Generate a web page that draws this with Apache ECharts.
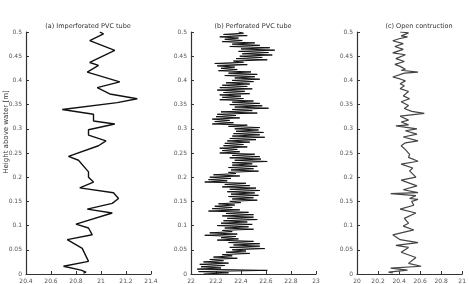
<!DOCTYPE html>
<html>
<head>
<meta charset="utf-8">
<script src="https://cdn.jsdelivr.net/npm/echarts@6/dist/echarts.min.js"></script>
<style>
html,body{margin:0;padding:0;background:#fff}
#main{width:469px;height:284px}
</style>
</head>
<body>
<div id="main"></div>
<script>
// (a) imperforated tube
var tempA = [20.99,21.02,20.91,21.11,20.91,20.98,20.89,21.15,20.97,21.07,21.29,21.13,20.69,20.94,20.94,21.11,20.90,20.90,21.04,20.98,20.74,20.82,20.90,20.90,20.94,20.83,21.10,21.14,21.09,20.89,21.09,20.80,20.90,20.93,20.73,20.85,20.90,20.70,20.84,20.88,20.86]
var hA = [0.500,0.496,0.482,0.462,0.437,0.431,0.417,0.397,0.385,0.372,0.362,0.354,0.340,0.330,0.316,0.310,0.298,0.287,0.275,0.265,0.243,0.235,0.211,0.200,0.190,0.178,0.168,0.156,0.146,0.134,0.126,0.103,0.095,0.081,0.071,0.053,0.026,0.016,0.008,0.004,0.002]

// (b) perforated tube, sampled every 2.5 mm from the bottom
var hStepB = 0.0025
var tempB = [
22.10,22.30,22.06,22.61, 22.05,22.24,22.08,22.27, 22.07,22.30,22.10,22.26, 22.15,22.37,22.18,22.33,
22.25,22.47,22.28,22.44, 22.33,22.59,22.31,22.55, 22.34,22.55,22.30,22.50, 22.21,22.38,22.24,22.36,
22.11,22.37,22.15,22.33, 22.25,22.50,22.27,22.46, 22.21,22.49,22.24,22.45, 22.26,22.53,22.29,22.50,
22.25,22.50,22.28,22.46, 22.14,22.39,22.17,22.33, 22.19,22.35,22.22,22.40, 22.31,22.53,22.33,22.50,
22.30,22.54,22.32,22.51, 22.29,22.55,22.31,22.52, 22.25,22.47,22.27,22.44, 22.11,22.29,22.14,22.32,
22.15,22.39,22.18,22.36, 22.30,22.54,22.32,22.50, 22.30,22.53,22.33,22.49, 22.33,22.61,22.35,22.56,
22.31,22.55,22.33,22.51, 22.23,22.39,22.25,22.37, 22.23,22.45,22.26,22.42, 22.27,22.47,22.29,22.52,
22.31,22.59,22.33,22.55, 22.34,22.58,22.36,22.54, 22.35,22.55,22.30,22.45, 22.17,22.34,22.19,22.31,
22.17,22.39,22.20,22.36, 22.21,22.53,22.24,22.49, 22.33,22.62,22.35,22.57, 22.31,22.55,22.33,22.50,
22.23,22.42,22.25,22.40, 22.23,22.47,22.26,22.43, 22.21,22.49,22.23,22.45, 22.25,22.47,22.28,22.50,
22.33,22.55,22.35,22.51, 22.27,22.53,22.30,22.48, 22.22,22.37,22.24,22.35, 22.21,22.45,22.19,22.42,
22.34,22.61,22.36,22.57, 22.39,22.65,22.41,22.62, 22.38,22.67,22.40,22.63, 22.31,22.55,22.33,22.51,
22.25,22.41,22.27,22.38, 22.23,22.45,22.26,22.42,
22.38]

// (c) open construction
var tempC = [20.41,20.49,20.42,20.48,20.40,20.34,20.44,20.36,20.44,20.34,20.46,20.37,20.45,20.36,20.41,20.46,20.42,20.58,20.45,20.34,20.41,20.46,20.41,20.45,20.41,20.49,20.44,20.50,20.42,20.49,20.45,20.52,20.64,20.41,20.49,20.42,20.49,20.37,20.57,20.46,20.57,20.44,20.58,20.46,20.42,20.46,20.50,20.49,20.58,20.42,20.53,20.50,20.56,20.42,20.57,20.44,20.58,20.32,20.56,20.50,20.58,20.52,20.54,20.41,20.56,20.45,20.49,20.44,20.54,20.34,20.41,20.58,20.37,20.49,20.42,20.56,20.49,20.61,20.32,20.48,20.30,20.34]
var hC = [0.500,0.498,0.492,0.490,0.486,0.482,0.476,0.470,0.464,0.457,0.453,0.445,0.439,0.433,0.429,0.423,0.421,0.417,0.415,0.407,0.403,0.399,0.393,0.389,0.383,0.377,0.368,0.362,0.356,0.348,0.342,0.336,0.332,0.326,0.318,0.314,0.308,0.306,0.300,0.296,0.289,0.283,0.275,0.271,0.265,0.257,0.247,0.241,0.233,0.227,0.219,0.213,0.200,0.194,0.182,0.174,0.168,0.166,0.162,0.156,0.154,0.150,0.142,0.134,0.126,0.115,0.105,0.099,0.091,0.081,0.071,0.065,0.059,0.055,0.045,0.034,0.022,0.016,0.012,0.008,0.004,0.002]

var titles = ['(a) Imperforated PVC tube', '(b) Perforated PVC tube', '(c) Open contruction']
var xMins = [20.4, 22, 20]
var xMaxs = [21.4, 23, 21]
var gridLefts = [26, 191, 357]
var lineColors = ['#111', '#111', '#444']
var lineWidths = [1.4, 1, 1.2]

function pairs(xs, ys) {
	var out = []
	for (var i = 0; i < xs.length; i++) out.push([xs[i], ys[i]])
	return out
}
var dataB = []
for (var i = 0; i < tempB.length; i++) dataB.push([tempB[i], +(i * hStepB).toFixed(4)])
var allData = [pairs(tempA, hA), dataB, pairs(tempC, hC)]

var chart = echarts.init(document.getElementById('main'))

var grids = [], xAxes = [], yAxes = [], series = [], titleArr = []
for (var k = 0; k < 3; k++) {
	grids.push({left: gridLefts[k], top: 32, width: 125, height: 247})
	xAxes.push({
		type: 'value', gridIndex: k, min: xMins[k], max: xMaxs[k], interval: 0.2,
		axisLine: {lineStyle: {color: '#333', width: 1.2}},
		axisTick: {inside: true, length: 3, lineStyle: {color: '#333'}},
		axisLabel: {color: '#555', fontSize: 6, margin: 4, fontFamily: 'DejaVu Sans'},
		splitLine: {show: false}
	})
	yAxes.push({
		type: 'value', gridIndex: k, min: 0, max: 0.5, interval: 0.05,
		axisLine: {show: true, lineStyle: {color: '#333', width: 1.2}},
		axisTick: {show: true, inside: true, length: 3, lineStyle: {color: '#333'}},
		axisLabel: {color: '#555', fontSize: 6, margin: 4, fontFamily: 'DejaVu Sans',
			formatter: function (v) { return +v.toFixed(2) + '' }},
		splitLine: {show: false}
	})
	series.push({
		type: 'line', xAxisIndex: k, yAxisIndex: k, data: allData[k],
		showSymbol: false, animation: false,
		lineStyle: {color: lineColors[k], width: lineWidths[k]}
	})
	titleArr.push({
		text: titles[k], left: gridLefts[k] + 57, top: 18, textAlign: 'center',
		textStyle: {fontSize: 6.5, fontWeight: 'normal', color: '#333', fontFamily: 'DejaVu Sans'}
	})
}

chart.setOption({
	animation: false,
	title: titleArr,
	grid: grids,
	xAxis: xAxes,
	yAxis: yAxes,
	series: series,
	graphic: [{
		type: 'text', x: 3, y: 132, rotation: Math.PI / 2,
		style: {text: 'Height above water [m]', fontSize: 7, fill: '#333', fontFamily: 'DejaVu Sans',
			textAlign: 'center', textVerticalAlign: 'top'}
	}]
})
</script>
</body>
</html>
